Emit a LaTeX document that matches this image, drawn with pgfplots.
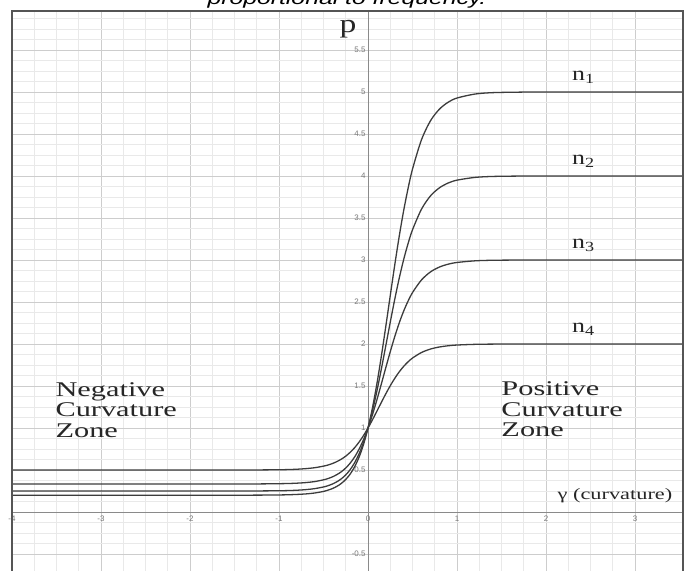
\documentclass[border=0pt]{standalone}
\usepackage{pgfplots}
\pgfplotsset{compat=1.18}
\usepackage{pgfplotstable}
\usepackage{fontspec}
\setmainfont{Liberation Serif}
\newfontfamily\sansfont{Liberation Sans}

\definecolor{curve}{HTML}{3C3C3C}
\definecolor{framec}{HTML}{555555}
\definecolor{majgrid}{HTML}{CDCDCD}
\definecolor{mingrid}{HTML}{E9E9E9}
\definecolor{axisc}{HTML}{8A8A8A}
\definecolor{tickc}{HTML}{7A7A7A}

\pgfplotstableread{
g a b c d
-4.1 0.2 0.25 0.3333 0.5
-2.0 0.2 0.25 0.3333 0.5
-1.7 0.2 0.2501 0.3334 0.5001
-1.4 0.2003 0.2504 0.3337 0.5004
-1.2 0.201 0.251 0.3345 0.501
-1.0 0.203 0.253 0.337 0.503
-0.9 0.205 0.255 0.339 0.505
-0.8 0.209 0.259 0.343 0.509
-0.7 0.215 0.266 0.350 0.516
-0.6 0.226 0.278 0.362 0.527
-0.5 0.245 0.298 0.383 0.546
-0.45 0.260 0.313 0.398 0.559
-0.4 0.279 0.333 0.418 0.577
-0.35 0.305 0.360 0.445 0.600
-0.3 0.340 0.395 0.479 0.629
-0.25 0.388 0.442 0.524 0.665
-0.2 0.452 0.505 0.582 0.711
-0.15 0.539 0.587 0.656 0.766
-0.1 0.654 0.694 0.749 0.833
-0.05 0.806 0.830 0.863 0.911
0 1 1 1 1
0.05 1.241 1.2045 1.1588 1.0975
0.1 1.528 1.4411 1.3359 1.2005
0.15 1.856 1.7034 1.5252 1.3051
0.2 2.211 1.9807 1.7188 1.4073
0.25 2.577 2.2599 1.9081 1.5032
0.3 2.938 2.5302 2.0867 1.5906
0.35 3.278 2.7802 2.2487 1.6673
0.4 3.585 3.0030 2.3902 1.7329
0.45 3.852 3.1955 2.5108 1.7875
0.5 4.083 3.3596 2.6125 1.8329
0.6 4.429 3.6032 2.7616 1.8982
0.7 4.654 3.7608 2.8568 1.9393
0.8 4.793 3.8574 2.9148 1.9640
0.9 4.878 3.9161 2.9500 1.9788
1.0 4.928 3.9503 2.9704 1.9875
1.2 4.975 3.9828 2.9898 1.9957
1.4 4.992 3.9944 2.9967 1.9986
1.7 4.998 3.9989 2.9993 1.9997
2.0 5 4 3 2
3.6 5 4 3 2
}\curves

\begin{document}
\begin{tikzpicture}
\path[use as bounding box, clip] (0,0) rectangle (689bp,571bp);
\fill[white] (0,0) rectangle (689bp,571bp);
\begin{axis}[
  name=ax,
  at={(12bp,-4bp)}, anchor=south west,
  scale only axis, width=671bp, height=564bp,
  xmin=-4, xmax=3.539, ymin=-0.75, ymax=5.964,
  axis lines=middle,
  axis line style={-, axisc, line width=0.9pt},
  every inner x axis line/.append style={-},
  every inner y axis line/.append style={-},
  xtick={-4,-3,-2,-1,0,1,2,3},
  ytick={-0.5,0,...,6},
  minor x tick num=3, minor y tick num=3,
  grid=both,
  major grid style={majgrid, line width=0.8pt},
  minor grid style={mingrid, line width=0.7pt},
  major tick length=0pt, minor tick length=0pt,
  hide obscured x ticks=false,
  /pgf/number format/assume math mode=true,
  xticklabel style={font=\sansfont\fontsize{8}{8}\selectfont, text=tickc},
  yticklabel style={font=\sansfont\fontsize{8}{8}\selectfont, text=tickc, xshift=1pt},
  clip=true,
]
\addplot[curve, line width=1.3pt, smooth] table[x=g, y=a] {\curves};
\addplot[curve, line width=1.3pt, smooth] table[x=g, y=b] {\curves};
\addplot[curve, line width=1.3pt, smooth] table[x=g, y=c] {\curves};
\addplot[curve, line width=1.3pt, smooth] table[x=g, y=d] {\curves};

\node[font=\fontsize{26}{26}\selectfont, text=black!85] at (axis cs:-0.225,5.75) {\scalebox{1.3}[1]{p}};
\node[font=\fontsize{16}{16}\selectfont, text=black!85] at (axis cs:2.775,0.2) {\scalebox{1.4}[1]{γ (curvature)}};
\node[anchor=west, font=\fontsize{21}{20.5}\selectfont, text=black!85] at (axis cs:-3.55,1.18)
  {\scalebox{1.45}[1]{\begin{tabular}{@{}l@{}}Negative\\Curvature\\Zone\end{tabular}}};
\node[anchor=west, font=\fontsize{21}{20.5}\selectfont, text=black!85] at (axis cs:1.46,1.19)
  {\scalebox{1.45}[1]{\begin{tabular}{@{}l@{}}Positive\\Curvature\\Zone\end{tabular}}};
\node[font=\fontsize{20}{20}\selectfont, text=black!85] at (axis cs:2.42,5.17) {\scalebox{1.3}[1]{n\textsubscript{1}}};
\node[font=\fontsize{20}{20}\selectfont, text=black!85] at (axis cs:2.42,4.17) {\scalebox{1.3}[1]{n\textsubscript{2}}};
\node[font=\fontsize{20}{20}\selectfont, text=black!85] at (axis cs:2.42,3.17) {\scalebox{1.3}[1]{n\textsubscript{3}}};
\node[font=\fontsize{20}{20}\selectfont, text=black!85] at (axis cs:2.42,2.17) {\scalebox{1.3}[1]{n\textsubscript{4}}};
\end{axis}
\draw[framec, line width=2pt] (ax.south west) rectangle (ax.north east);
\node[anchor=base, font=\sansfont\itshape\fontsize{18}{18}\selectfont] at (347bp,566bp)
  {\scalebox{1.38}[1]{proportional to frequency.}};
\end{tikzpicture}
\end{document}
